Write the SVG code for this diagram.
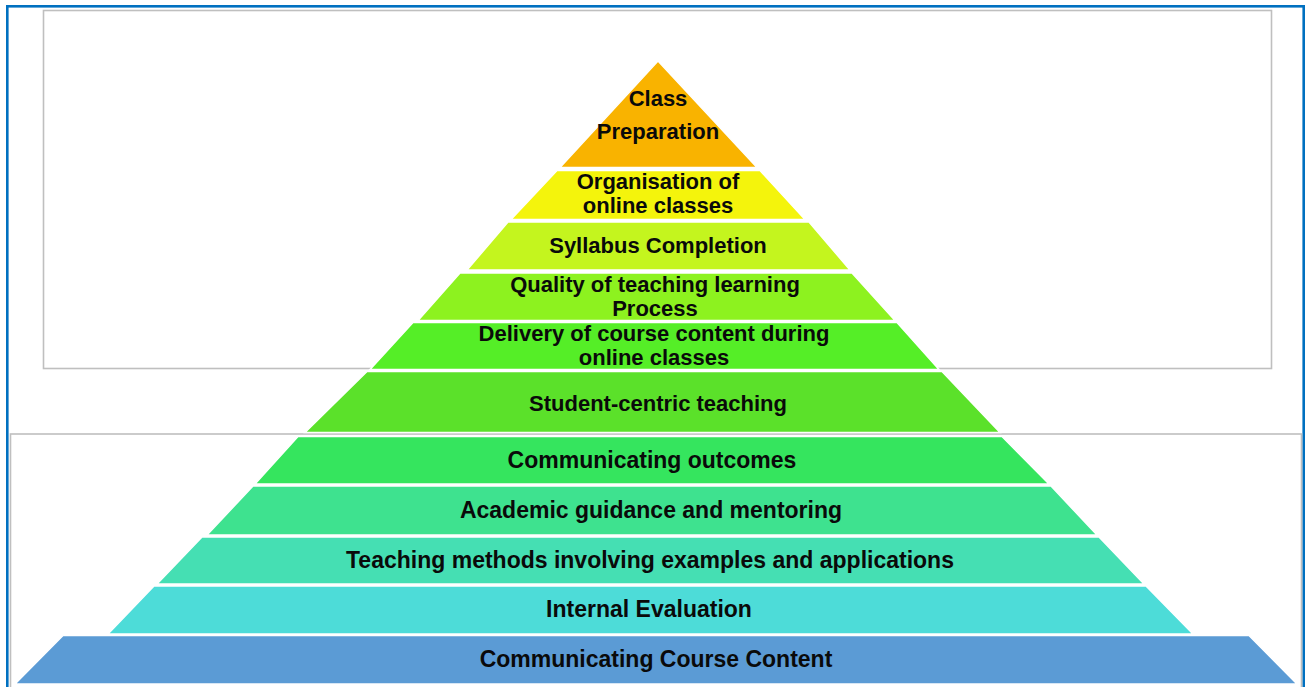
<svg xmlns="http://www.w3.org/2000/svg" width="1309" height="687" viewBox="0 0 1309 687">
<style>
.frame{fill:none;stroke:#0070C0;stroke-width:2.6}
.box{fill:none;stroke:#BFBFBF;stroke-width:1.6}
.layer{stroke:#FFFFFF;stroke-width:1.5;stroke-linejoin:miter}
.t{font-family:"Liberation Sans",Arial,sans-serif;font-weight:bold;fill:#0A0A0A;text-anchor:middle}
.s22{font-size:22px}
.s23{font-size:23px}
</style>
<rect x="0" y="0" width="1309" height="687" fill="#FFFFFF"/>
<g id="frames">
<rect class="frame" x="7.3" y="6.3" width="1296.4" height="700"/>
<rect class="box" x="43.5" y="10.5" width="1228" height="358"/>
<rect class="box" x="10.5" y="434" width="1291" height="300"/>
</g>
<g id="layer-1">
<polygon class="layer" fill="#F9B300" points="658,61 757,167.5 560,167.5"/>
<text class="t s22" x="658" y="106">Class</text>
<text class="t s22" x="658" y="139">Preparation</text>
</g>
<g id="layer-2">
<polygon class="layer" fill="#F4F40C" points="557,170.5 760,170.5 805,219.5 511,219.5"/>
<text class="t s22" x="658" y="189">Organisation of</text>
<text class="t s22" x="658" y="213">online classes</text>
</g>
<g id="layer-3">
<polygon class="layer" fill="#C4F51E" points="508,222 809,222 850,270 467,270"/>
<text class="t s22" x="658" y="253">Syllabus Completion</text>
</g>
<g id="layer-4">
<polygon class="layer" fill="#8DF21F" points="460,273 852,273 895,320.5 418,320.5"/>
<text class="t s22" x="655" y="292">Quality of teaching learning</text>
<text class="t s22" x="655" y="316">Process</text>
</g>
<g id="layer-5">
<polygon class="layer" fill="#55EE27" points="413,322.5 897,322.5 939,369.5 370,369.5"/>
<text class="t s22" x="654" y="341">Delivery of course content during</text>
<text class="t s22" x="654" y="365">online classes</text>
</g>
<g id="layer-6">
<polygon class="layer" fill="#5BE12A" points="367,371.5 942,371.5 1000,432.5 305,432.5"/>
<text class="t s22" x="658" y="411">Student-centric teaching</text>
</g>
<g id="layer-7">
<polygon class="layer" fill="#35E55E" points="298,436.5 1002,436.5 1049,484 255,484"/>
<text class="t s23" x="652" y="468">Communicating outcomes</text>
</g>
<g id="layer-8">
<polygon class="layer" fill="#3EE28F" points="253,486 1051,486 1097,535 207,535"/>
<text class="t s23" x="651" y="518">Academic guidance and mentoring</text>
</g>
<g id="layer-9">
<polygon class="layer" fill="#45DFB3" points="202,537 1099,537 1144,584 157,584"/>
<text class="t s23" x="650" y="568">Teaching methods involving examples and applications</text>
</g>
<g id="layer-10">
<polygon class="layer" fill="#4DDCD8" points="154,586 1146,586 1193,634 108,634"/>
<text class="t s23" x="649" y="617">Internal Evaluation</text>
</g>
<g id="layer-11">
<polygon class="layer" fill="#5B9BD5" points="63,635.5 1249,635.5 1297,684 15,684"/>
<text class="t s23" x="656" y="667">Communicating Course Content</text>
</g>
</svg>
